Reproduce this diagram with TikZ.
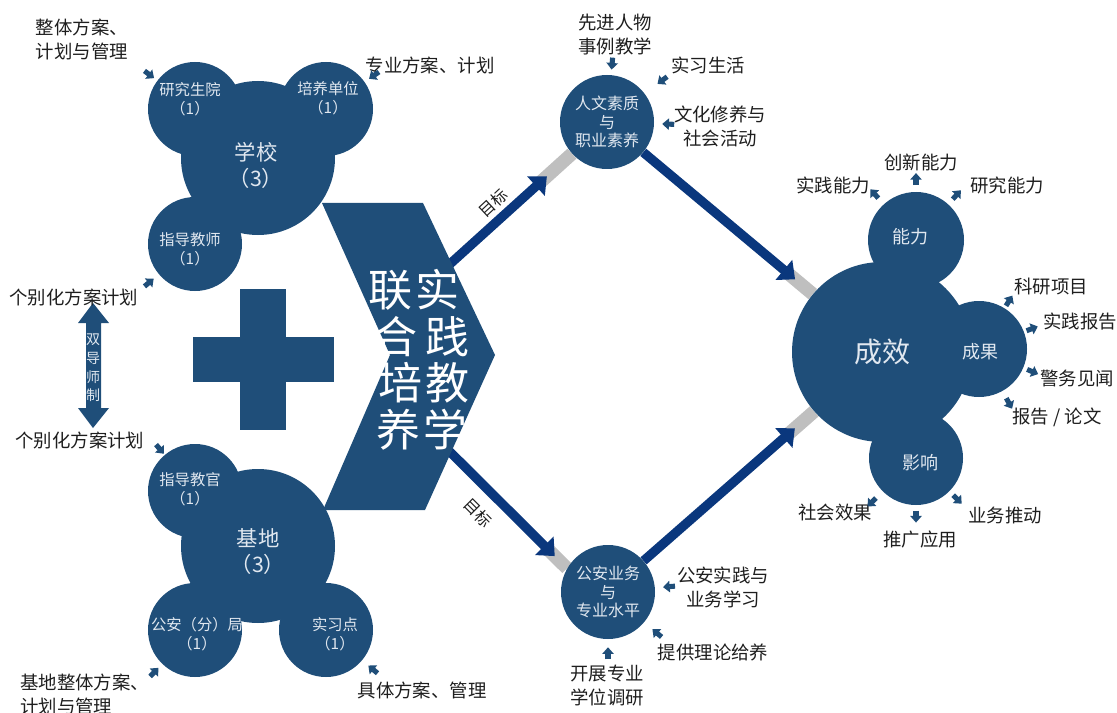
\documentclass[tikz,border=0pt]{standalone}
\usepackage{fontspec}
\setmainfont{Noto Sans CJK SC}
\usetikzlibrary{arrows.meta,calc,backgrounds}
\definecolor{bubblue}{RGB}{31,78,121}
\definecolor{linenavy}{RGB}{10,55,125}
\definecolor{bandgray}{RGB}{191,191,191}
\definecolor{labelink}{RGB}{30,30,30}
\definecolor{palewhite}{RGB}{225,232,240}
\tikzset{
    bub/.style={circle,fill=bubblue,inner sep=0pt,minimum size=#1},
    bub/.default=70.5pt,
    intext/.style={text=palewhite,align=center,inner sep=0pt,font=\fontsize{11.5}{14}\selectfont},
    note/.style={text=labelink,align=center,inner sep=0pt,font=\fontsize{13.8}{18}\selectfont},
    nib/.style={draw=bubblue,line width=3.8pt,-{Triangle[width=8.5pt,length=5pt]}},
    band/.style={draw=bandgray,line width=10pt},
    goal/.style={draw=linenavy,line width=7pt,-{Triangle[width=19pt,length=11pt]}}
}

\begin{document}
\begin{tikzpicture}[x=0.75pt,y=-0.75pt]
    \useasboundingbox (0,0) rectangle (1117,713);
    % school cluster
    \node[bub=115.5pt] (school) at (258,158) {};
    \node[bub] (yjs) at (195,109) {};
    \node[bub] (pyd) at (326,109) {};
    \node[bub] (zds) at (195,244) {};
    \node[intext] (yjs-t) at (190,99) {研究生院\\（1）};
    \node[intext] (pyd-t) at (328,98) {培养单位\\（1）};
    \node[intext] (zds-t) at (190,249) {指导教师\\（1）};
    \node[intext,font=\fontsize{16}{19.5}\selectfont] (school-t) at (256,165) {学校\\（3）};
    % base cluster
    \node[bub=115.5pt] (base) at (258,546) {};
    \node[bub] (zdj) at (195,491) {};
    \node[bub] (gaj) at (195,630) {};
    \node[bub] (sxd) at (326,630) {};
    \node[intext] (zdj-t) at (190,489) {指导教官\\（1）};
    \node[intext] (gaj-t) at (197,634) {公安（分）局\\（1）};
    \node[intext] (sxd-t) at (335,634) {实习点\\（1）};
    \node[intext,font=\fontsize{16}{19.5}\selectfont] (base-t) at (258,552) {基地\\（3）};
    % plus and dual tutor arrow
    \fill[bubblue] (240,289) rectangle (286,430);
    \fill[bubblue] (193,337) rectangle (334,382);
    \fill[bubblue] (93,303) -- (109,323) -- (101,323) -- (101,408) -- (109,408) -- (93,428)
        -- (78,408) -- (86,408) -- (86,323) -- (78,323) -- cycle;
    \node[text=palewhite,align=center,inner sep=0pt,font=\fontsize{10.5}{14}\selectfont] (dual) at (93,368) {双\\导\\师\\制};
    % chevron
    \fill[bubblue] (322,203) -- (423,203) -- (495,355) -- (425,510) -- (323,510) -- (390,355) -- cycle;
    \foreach \ch/\px/\py [count=\i] in {联/390/290,合/395/337,培/400/383,养/398/430,实/437/290,践/447/337,教/447/383,学/445/430}
        \node[text=white,inner sep=0pt,font=\fontsize{33}{33}\selectfont] (cv\i) at (\px,\py) {\ch};
    % goals
    \node[bub,intext,font=\fontsize{12}{14}\selectfont] (hum) at (607,122) {人文素质\\与\\职业素养};
    \node[bub,intext,font=\fontsize{12}{14}\selectfont] (pol) at (608,592) {公安业务\\与\\专业水平};
    % results cluster
    \node[bub=135pt] (res) at (882,352) {};
    \node[bub=72pt] (abl) at (916,240) {};
    \node[bub=72pt] (ach) at (979,349) {};
    \node[bub] (imp) at (916,458) {};
    \node[intext,font=\fontsize{21}{24}\selectfont] (res-t) at (882,352) {成效};
    \node[intext,font=\fontsize{13.5}{16}\selectfont] (abl-t) at (910,237) {能力};
    \node[intext,font=\fontsize{13.5}{16}\selectfont] (ach-t) at (980,352) {成果};
    \node[intext,font=\fontsize{13.5}{16}\selectfont] (imp-t) at (920,463) {影响};
    % labels
    \node[note] (n1) at (82,39) {整体方案、\\计划与管理};
    \node[note] (n2) at (430,65) {专业方案、计划};
    \node[note] (n3) at (74,297) {个别化方案计划};
    \node[note] (n4) at (80,440) {个别化方案计划};
    \node[note,anchor=west,align=left] (n5) at (20,694) {基地整体方案、\\计划与管理};
    \node[note] (n6) at (422,690) {具体方案、管理};
    \node[note] (n7) at (615,35) {先进人物\\事例教学};
    \node[note] (n8) at (708,65) {实习生活};
    \node[note] (n9) at (720,126) {文化修养与\\社会活动};
    \node[note] (n10) at (723,587) {公安实践与\\业务学习};
    \node[note] (n11) at (713,652) {提供理论给养};
    \node[note] (n12) at (607,686) {开展专业\\学位调研};
    \node[note] (n13) at (921,163) {创新能力};
    \node[note] (n14) at (833,185) {实践能力};
    \node[note] (n15) at (1007,185) {研究能力};
    \node[note] (n16) at (1051,287) {科研项目};
    \node[note] (n17) at (1080,322) {实践报告};
    \node[note] (n18) at (1077,378) {警务见闻};
    \node[note] (n19) at (1057,417) {报告 / 论文};
    \node[note] (n20) at (835,513) {社会效果};
    \node[note] (n21) at (920,540) {推广应用};
    \node[note] (n22) at (1005,515) {业务推动};
    \node[note,font=\fontsize{12}{14}\selectfont,rotate=43] (g1) at (493,203) {目标};
    \node[note,font=\fontsize{12}{14}\selectfont,rotate=-45] (g2) at (478,513) {目标};
    % small arrows in
    \draw[nib] ([shift={(143:12pt)}]yjs.143) -- ([shift={(143:3pt)}]yjs.143);
    \draw[nib] ([shift={(35:13pt)}]pyd.35) -- ([shift={(35:4pt)}]pyd.35);
    \draw[nib] ([shift={(220:14pt)}]zds.220) -- ([shift={(220:5pt)}]zds.220);
    \draw[nib] ([shift={(130:10pt)}]zdj.130) -- ([shift={(130:1pt)}]zdj.130);
    \draw[nib] ([shift={(226:13pt)}]gaj.226) -- ([shift={(226:4pt)}]gaj.226);
    \draw[nib] ([shift={(320:15pt)}]sxd.320) -- ([shift={(320:6pt)}]sxd.320);
    \draw[nib] ([shift={(85:13pt)}]hum.85) -- ([shift={(85:4pt)}]hum.85);
    \draw[nib] ([shift={(37:21pt)}]hum.37) -- ([shift={(37:12pt)}]hum.37);
    \draw[nib] ([shift={(-2:15pt)}]hum.-2) -- ([shift={(-2:6pt)}]hum.-2);
    \draw[nib] ([shift={(5:15pt)}]pol.5) -- ([shift={(5:6pt)}]pol.5);
    \draw[nib] ([shift={(-40:17pt)}]pol.-40) -- ([shift={(-40:8pt)}]pol.-40);
    \draw[nib] ([shift={(-90:15pt)}]pol.-90) -- ([shift={(-90:6pt)}]pol.-90);
    % small arrows out
    \draw[nib] ([shift={(90:5pt)}]abl.90) -- ([shift={(90:14pt)}]abl.90);
    \draw[nib] ([shift={(132:6pt)}]abl.132) -- ([shift={(132:15pt)}]abl.132);
    \draw[nib] ([shift={(48:5pt)}]abl.48) -- ([shift={(48:14pt)}]abl.48);
    \draw[nib] ([shift={(58:2pt)}]ach.58) -- ([shift={(58:11pt)}]ach.58);
    \draw[nib] ([shift={(21:2pt)}]ach.21) -- ([shift={(21:11pt)}]ach.21);
    \draw[nib] ([shift={(-23:3pt)}]ach.-23) -- ([shift={(-23:12pt)}]ach.-23);
    \draw[nib] ([shift={(-61:6pt)}]ach.-61) -- ([shift={(-61:15pt)}]ach.-61);
    \draw[nib] ([shift={(-135:7pt)}]imp.-135) -- ([shift={(-135:16pt)}]imp.-135);
    \draw[nib] ([shift={(-90:4pt)}]imp.-90) -- ([shift={(-90:13pt)}]imp.-90);
    \draw[nib] ([shift={(-45:4pt)}]imp.-45) -- ([shift={(-45:13pt)}]imp.-45);
    % main arrows
    \coordinate (cv-up) at (440,273);
    \coordinate (cv-low) at (430,432);
    \begin{scope}[on background layer]
        \draw[band] ($(cv-up)!0.6!(hum)$) -- (hum);
        \draw[goal] (cv-up) -- ($(cv-up)!0.64!(hum)$);
        \draw[band] ($(hum)!0.65!(res)$) -- (res);
        \draw[goal] (hum) -- ($(hum)!0.684!(res)$);
        \draw[band] ($(cv-low)!0.85!(pol.150)$) -- (pol.150);
        \draw[goal] (cv-low) -- ($(cv-low)!0.91!(pol.150)$);
        \draw[band] ($(pol)!0.65!(res)$) -- (res);
        \draw[goal] (pol) -- ($(pol)!0.682!(res)$);
    \end{scope}
\end{tikzpicture}
\end{document}
